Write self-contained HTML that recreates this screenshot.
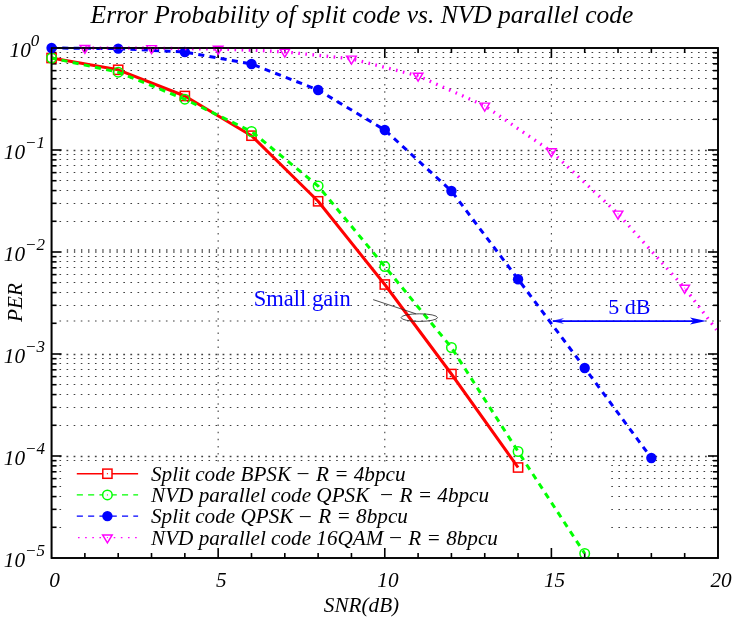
<!DOCTYPE html><html><head><meta charset="utf-8"><style>html,body{margin:0;padding:0;background:#fff}svg{display:block;will-change:transform;opacity:0.999}text{font-family:"Liberation Serif",serif}</style></head><body>
<svg width="741" height="623" viewBox="0 0 741 623">
<rect width="741" height="623" fill="#fff"/>
<g stroke="#404040" stroke-width="1.05" fill="none" stroke-dasharray="1.6 5.4946">
<path d="M59.39 150.50H718.00" stroke-width="1.6" stroke-dasharray="1.8 5.2946"/>
<path d="M59.49 119.50H718.00"/>
<path d="M59.49 101.50H718.00"/>
<path d="M59.49 88.50H718.00"/>
<path d="M59.49 78.50H718.00"/>
<path d="M59.49 70.50H718.00"/>
<path d="M59.49 63.50H718.00"/>
<path d="M59.49 57.50H718.00"/>
<path d="M59.49 52.50H718.00"/>
<path d="M59.49 221.50H718.00"/>
<path d="M59.49 203.50H718.00"/>
<path d="M59.49 190.50H718.00"/>
<path d="M59.49 180.50H718.00"/>
<path d="M59.49 172.50H718.00"/>
<path d="M59.49 165.50H718.00"/>
<path d="M59.49 159.50H718.00"/>
<path d="M59.49 154.50H718.00"/>
<path d="M59.39 354.50H718.00" stroke-width="1.6" stroke-dasharray="1.8 5.2946"/>
<path d="M59.49 321.00H721.50"/>
<path d="M59.49 305.50H718.00"/>
<path d="M59.49 292.50H718.00"/>
<path d="M59.49 282.50H718.00"/>
<path d="M59.49 274.50H718.00"/>
<path d="M59.49 267.50H718.00"/>
<path d="M59.49 261.50H718.00"/>
<path d="M59.49 256.50H718.00"/>
<path d="M59.39 456.50H718.00" stroke-width="1.6" stroke-dasharray="1.8 5.2946"/>
<path d="M59.49 425.50H718.00"/>
<path d="M59.49 407.50H718.00"/>
<path d="M59.49 394.50H718.00"/>
<path d="M59.49 384.50H718.00"/>
<path d="M59.49 376.50H718.00"/>
<path d="M59.49 369.50H718.00"/>
<path d="M59.49 363.50H718.00"/>
<path d="M59.49 358.50H718.00"/>
<path d="M59.49 527.50h1.6"/>
<path d="M611.30 527.50H718.00"/>
<path d="M59.49 509.50h1.6"/>
<path d="M611.30 509.50H718.00"/>
<path d="M59.49 496.50h1.6"/>
<path d="M611.30 496.50H718.00"/>
<path d="M59.49 486.50h1.6"/>
<path d="M611.30 486.50H718.00"/>
<path d="M59.49 478.50h1.6"/>
<path d="M611.30 478.50H718.00"/>
<path d="M59.49 471.50h1.6"/>
<path d="M611.30 471.50H718.00"/>
<path d="M59.49 465.50h1.6"/>
<path d="M611.30 465.50H718.00"/>
<path d="M59.49 460.50H718.00"/>
</g>
<path d="M66.83 251H718.00" stroke="#666" stroke-width="3.8" stroke-dasharray="1.3 5.7946" fill="none"/>
<g stroke="#404040" stroke-width="1.1" fill="none" stroke-dasharray="1.5 5.5946">
<path d="M218.16 48.60V558.00"/>
<path d="M384.78 48.60V558.00"/>
<path d="M551.39 48.60V558.00"/>
</g>
<rect x="62.5" y="463" width="548" height="95" fill="#fff"/>
<g stroke="#000" stroke-width="1.6" fill="none">
<rect x="51.55" y="48.00" width="666.45" height="510.00"/>
<path d="M84.87 558.00v-5.00M84.87 48.00v5.00"/>
<path d="M118.20 558.00v-5.00M118.20 48.00v5.00"/>
<path d="M151.52 558.00v-5.00M151.52 48.00v5.00"/>
<path d="M184.84 558.00v-5.00M184.84 48.00v5.00"/>
<path d="M218.16 558.00v-10.00M218.16 48.00v10.00"/>
<path d="M251.49 558.00v-5.00M251.49 48.00v5.00"/>
<path d="M284.81 558.00v-5.00M284.81 48.00v5.00"/>
<path d="M318.13 558.00v-5.00M318.13 48.00v5.00"/>
<path d="M351.45 558.00v-5.00M351.45 48.00v5.00"/>
<path d="M384.78 558.00v-10.00M384.78 48.00v10.00"/>
<path d="M418.10 558.00v-5.00M418.10 48.00v5.00"/>
<path d="M451.42 558.00v-5.00M451.42 48.00v5.00"/>
<path d="M484.74 558.00v-5.00M484.74 48.00v5.00"/>
<path d="M518.07 558.00v-5.00M518.07 48.00v5.00"/>
<path d="M551.39 558.00v-10.00M551.39 48.00v10.00"/>
<path d="M584.71 558.00v-5.00M584.71 48.00v5.00"/>
<path d="M618.03 558.00v-5.00M618.03 48.00v5.00"/>
<path d="M651.36 558.00v-5.00M651.36 48.00v5.00"/>
<path d="M684.68 558.00v-5.00M684.68 48.00v5.00"/>
<path d="M51.55 150.00h10.00"/>
<path d="M718.00 150.00h-10.00"/>
<path d="M51.55 119.29h5.00"/>
<path d="M718.00 119.29h-5.00"/>
<path d="M51.55 101.33h5.00"/>
<path d="M718.00 101.33h-5.00"/>
<path d="M51.55 88.59h5.00"/>
<path d="M718.00 88.59h-5.00"/>
<path d="M51.55 78.71h5.00"/>
<path d="M718.00 78.71h-5.00"/>
<path d="M51.55 70.63h5.00"/>
<path d="M718.00 70.63h-5.00"/>
<path d="M51.55 63.80h5.00"/>
<path d="M718.00 63.80h-5.00"/>
<path d="M51.55 57.88h5.00"/>
<path d="M718.00 57.88h-5.00"/>
<path d="M51.55 52.67h5.00"/>
<path d="M718.00 52.67h-5.00"/>
<path d="M51.55 252.00h10.00"/>
<path d="M718.00 252.00h-10.00"/>
<path d="M51.55 221.29h5.00"/>
<path d="M718.00 221.29h-5.00"/>
<path d="M51.55 203.33h5.00"/>
<path d="M718.00 203.33h-5.00"/>
<path d="M51.55 190.59h5.00"/>
<path d="M718.00 190.59h-5.00"/>
<path d="M51.55 180.71h5.00"/>
<path d="M718.00 180.71h-5.00"/>
<path d="M51.55 172.63h5.00"/>
<path d="M718.00 172.63h-5.00"/>
<path d="M51.55 165.80h5.00"/>
<path d="M718.00 165.80h-5.00"/>
<path d="M51.55 159.88h5.00"/>
<path d="M718.00 159.88h-5.00"/>
<path d="M51.55 154.67h5.00"/>
<path d="M718.00 154.67h-5.00"/>
<path d="M51.55 354.00h10.00"/>
<path d="M718.00 354.00h-10.00"/>
<path d="M51.55 323.29h5.00"/>
<path d="M51.55 305.33h5.00"/>
<path d="M718.00 305.33h-5.00"/>
<path d="M51.55 292.59h5.00"/>
<path d="M718.00 292.59h-5.00"/>
<path d="M51.55 282.71h5.00"/>
<path d="M718.00 282.71h-5.00"/>
<path d="M51.55 274.63h5.00"/>
<path d="M718.00 274.63h-5.00"/>
<path d="M51.55 267.80h5.00"/>
<path d="M718.00 267.80h-5.00"/>
<path d="M51.55 261.88h5.00"/>
<path d="M718.00 261.88h-5.00"/>
<path d="M51.55 256.67h5.00"/>
<path d="M718.00 256.67h-5.00"/>
<path d="M51.55 456.00h10.00"/>
<path d="M718.00 456.00h-10.00"/>
<path d="M51.55 425.29h5.00"/>
<path d="M718.00 425.29h-5.00"/>
<path d="M51.55 407.33h5.00"/>
<path d="M718.00 407.33h-5.00"/>
<path d="M51.55 394.59h5.00"/>
<path d="M718.00 394.59h-5.00"/>
<path d="M51.55 384.71h5.00"/>
<path d="M718.00 384.71h-5.00"/>
<path d="M51.55 376.63h5.00"/>
<path d="M718.00 376.63h-5.00"/>
<path d="M51.55 369.80h5.00"/>
<path d="M718.00 369.80h-5.00"/>
<path d="M51.55 363.88h5.00"/>
<path d="M718.00 363.88h-5.00"/>
<path d="M51.55 358.67h5.00"/>
<path d="M718.00 358.67h-5.00"/>
<path d="M51.55 527.29h5.00"/>
<path d="M718.00 527.29h-5.00"/>
<path d="M51.55 509.33h5.00"/>
<path d="M718.00 509.33h-5.00"/>
<path d="M51.55 496.59h5.00"/>
<path d="M718.00 496.59h-5.00"/>
<path d="M51.55 486.71h5.00"/>
<path d="M718.00 486.71h-5.00"/>
<path d="M51.55 478.63h5.00"/>
<path d="M718.00 478.63h-5.00"/>
<path d="M51.55 471.80h5.00"/>
<path d="M718.00 471.80h-5.00"/>
<path d="M51.55 465.88h5.00"/>
<path d="M718.00 465.88h-5.00"/>
<path d="M51.55 460.67h5.00"/>
<path d="M718.00 460.67h-5.00"/>
</g>
<path d="M76.80 473.70H138.10" stroke="#f00" stroke-width="1.4" fill="none"/>
<rect x="102.80" y="469.10" width="9.2" height="9.2" fill="#fff" stroke="#f00" stroke-width="1.5"/>
<circle cx="107.40" cy="473.70" r="0.6" fill="#f00"/>
<path d="M76.80 494.90H138.10" stroke="#0f0" stroke-width="1.4" stroke-dasharray="6.1 5.2" fill="none"/>
<circle cx="107.40" cy="494.90" r="4.75" fill="#fff" stroke="#0f0" stroke-width="1.5"/>
<circle cx="107.40" cy="494.90" r="0.6" fill="#0f0"/>
<path d="M76.80 516.10H138.10" stroke="#00f" stroke-width="1.4" stroke-dasharray="6.1 5.2" fill="none"/>
<circle cx="107.40" cy="516.10" r="5.2" fill="#00f"/>
<path d="M78.00 537.60H138.10" stroke="#f0f" stroke-width="1.4" stroke-dasharray="1.6 5.54" fill="none"/>
<path d="M102.60 534.90L112.20 534.90L107.40 542.90Z" fill="#fff" stroke="#f0f" stroke-width="1.45" stroke-linejoin="miter"/>
<circle cx="107.40" cy="537.60" r="0.6" fill="#f0f"/>
<text x="151" y="480.70" font-size="21.2" font-style="italic" xml:space="preserve" id="lg0">Split code BPSK <tspan dx="1.4" dy="-1.6">–</tspan><tspan dx="2.3" dy="1.6"> </tspan>R = 4bpcu</text>
<text x="151" y="501.90" font-size="21.2" font-style="italic" xml:space="preserve" id="lg1">NVD parallel code QPSK  <tspan dx="1.4" dy="-1.6">–</tspan><tspan dx="2.3" dy="1.6"> </tspan>R = 4bpcu</text>
<text x="151" y="523.10" font-size="21.2" font-style="italic" xml:space="preserve" id="lg2">Split code QPSK <tspan dx="1.4" dy="-1.6">–</tspan><tspan dx="2.3" dy="1.6"> </tspan>R = 8bpcu</text>
<text x="151" y="544.60" font-size="21.2" font-style="italic" xml:space="preserve" id="lg3">NVD parallel code 16QAM <tspan dx="1.4" dy="-1.6">–</tspan><tspan dx="2.3" dy="1.6"> </tspan>R = 8bpcu</text>
<path d="M51.55 58.00L118.20 69.80L184.84 96.00L251.49 135.70L318.13 201.30L384.78 284.50L451.42 374.00L518.07 467.50" stroke="#f00" stroke-width="3" stroke-linejoin="round" fill="none"/>
<rect x="46.95" y="53.40" width="9.2" height="9.2" fill="none" stroke="#f00" stroke-width="1.5"/>
<rect x="113.60" y="65.20" width="9.2" height="9.2" fill="none" stroke="#f00" stroke-width="1.5"/>
<rect x="180.24" y="91.40" width="9.2" height="9.2" fill="none" stroke="#f00" stroke-width="1.5"/>
<rect x="246.89" y="131.10" width="9.2" height="9.2" fill="none" stroke="#f00" stroke-width="1.5"/>
<rect x="313.53" y="196.70" width="9.2" height="9.2" fill="none" stroke="#f00" stroke-width="1.5"/>
<rect x="380.18" y="279.90" width="9.2" height="9.2" fill="none" stroke="#f00" stroke-width="1.5"/>
<rect x="446.82" y="369.40" width="9.2" height="9.2" fill="none" stroke="#f00" stroke-width="1.5"/>
<rect x="513.47" y="462.90" width="9.2" height="9.2" fill="none" stroke="#f00" stroke-width="1.5"/>
<path d="M51.55 58.00L118.20 72.20L184.84 99.20L251.49 131.50L318.13 186.00L384.78 266.50L451.42 347.50L518.07 451.50L584.71 553.50" stroke="#0f0" stroke-width="3" stroke-dasharray="6.1 5.3" stroke-dashoffset="1.2" fill="none"/>
<circle cx="51.55" cy="58.00" r="4.75" fill="none" stroke="#0f0" stroke-width="1.5"/>
<circle cx="118.20" cy="72.20" r="4.75" fill="none" stroke="#0f0" stroke-width="1.5"/>
<circle cx="184.84" cy="99.20" r="4.75" fill="none" stroke="#0f0" stroke-width="1.5"/>
<circle cx="251.49" cy="131.50" r="4.75" fill="none" stroke="#0f0" stroke-width="1.5"/>
<circle cx="318.13" cy="186.00" r="4.75" fill="none" stroke="#0f0" stroke-width="1.5"/>
<circle cx="384.78" cy="266.50" r="4.75" fill="none" stroke="#0f0" stroke-width="1.5"/>
<circle cx="451.42" cy="347.50" r="4.75" fill="none" stroke="#0f0" stroke-width="1.5"/>
<circle cx="518.07" cy="451.50" r="4.75" fill="none" stroke="#0f0" stroke-width="1.5"/>
<circle cx="584.71" cy="553.50" r="4.75" fill="none" stroke="#0f0" stroke-width="1.5"/>
<path d="M51.55 48.00L118.20 48.60L184.84 52.00L251.49 64.00L318.13 90.00L384.78 130.00L451.42 191.00L518.07 279.20L584.71 368.00L651.36 458.00" stroke="#00f" stroke-width="3" stroke-dasharray="6.08 5.277" stroke-dashoffset="0.6" fill="none"/>
<circle cx="51.55" cy="48.00" r="5.2" fill="#00f"/>
<circle cx="118.20" cy="48.60" r="5.2" fill="#00f"/>
<circle cx="184.84" cy="52.00" r="5.2" fill="#00f"/>
<circle cx="251.49" cy="64.00" r="5.2" fill="#00f"/>
<circle cx="318.13" cy="90.00" r="5.2" fill="#00f"/>
<circle cx="384.78" cy="130.00" r="5.2" fill="#00f"/>
<circle cx="451.42" cy="191.00" r="5.2" fill="#00f"/>
<circle cx="518.07" cy="279.20" r="5.2" fill="#00f"/>
<circle cx="584.71" cy="368.00" r="5.2" fill="#00f"/>
<circle cx="651.36" cy="458.00" r="5.2" fill="#00f"/>
<path d="M84.87 48.00L118.20 48.10L151.52 48.30L184.84 48.60L218.16 49.10L251.49 50.10L284.81 51.90L351.45 58.80L418.10 75.90L484.74 105.80L551.39 151.50L618.03 213.80L684.68 288.00L716.50 329.80" stroke="#f0f" stroke-width="3.3" stroke-dasharray="1.6 5.5" stroke-dashoffset="6.53" fill="none"/>
<path d="M80.07 45.40L89.67 45.40L84.87 53.40Z" fill="none" stroke="#f0f" stroke-width="1.45" stroke-linejoin="miter"/>
<circle cx="84.87" cy="48.10" r="0.6" fill="#f0f"/>
<path d="M146.72 45.60L156.32 45.60L151.52 53.60Z" fill="none" stroke="#f0f" stroke-width="1.45" stroke-linejoin="miter"/>
<circle cx="151.52" cy="48.30" r="0.6" fill="#f0f"/>
<path d="M213.36 46.30L222.96 46.30L218.16 54.30Z" fill="none" stroke="#f0f" stroke-width="1.45" stroke-linejoin="miter"/>
<circle cx="218.16" cy="49.00" r="0.6" fill="#f0f"/>
<path d="M280.01 49.20L289.61 49.20L284.81 57.20Z" fill="none" stroke="#f0f" stroke-width="1.45" stroke-linejoin="miter"/>
<circle cx="284.81" cy="51.90" r="0.6" fill="#f0f"/>
<path d="M346.65 56.10L356.25 56.10L351.45 64.10Z" fill="none" stroke="#f0f" stroke-width="1.45" stroke-linejoin="miter"/>
<circle cx="351.45" cy="58.80" r="0.6" fill="#f0f"/>
<path d="M413.30 73.20L422.90 73.20L418.10 81.20Z" fill="none" stroke="#f0f" stroke-width="1.45" stroke-linejoin="miter"/>
<circle cx="418.10" cy="75.90" r="0.6" fill="#f0f"/>
<path d="M479.94 103.10L489.54 103.10L484.74 111.10Z" fill="none" stroke="#f0f" stroke-width="1.45" stroke-linejoin="miter"/>
<circle cx="484.74" cy="105.80" r="0.6" fill="#f0f"/>
<path d="M546.59 148.80L556.19 148.80L551.39 156.80Z" fill="none" stroke="#f0f" stroke-width="1.45" stroke-linejoin="miter"/>
<circle cx="551.39" cy="151.50" r="0.6" fill="#f0f"/>
<path d="M613.23 211.10L622.83 211.10L618.03 219.10Z" fill="none" stroke="#f0f" stroke-width="1.45" stroke-linejoin="miter"/>
<circle cx="618.03" cy="213.80" r="0.6" fill="#f0f"/>
<path d="M679.88 285.30L689.48 285.30L684.68 293.30Z" fill="none" stroke="#f0f" stroke-width="1.45" stroke-linejoin="miter"/>
<circle cx="684.68" cy="288.00" r="0.6" fill="#f0f"/>
<rect x="51.55" y="48.00" width="666.45" height="510.00" fill="none" stroke="#000" stroke-width="1.6"/>
<text x="54.65" y="586.6" font-size="21.2" font-style="italic" text-anchor="middle">0</text>
<text x="221.26" y="586.6" font-size="21.2" font-style="italic" text-anchor="middle">5</text>
<text x="387.88" y="586.6" font-size="21.2" font-style="italic" text-anchor="middle">10</text>
<text x="554.49" y="586.6" font-size="21.2" font-style="italic" text-anchor="middle">15</text>
<text x="721.10" y="586.6" font-size="21.2" font-style="italic" text-anchor="middle">20</text>
<text x="24.4" y="56.90" font-size="21.2" font-style="italic" text-anchor="middle">10<tspan font-size="17" dy="-10.6">0</tspan></text>
<text x="24.4" y="158.90" font-size="21.2" font-style="italic" text-anchor="middle">10<tspan font-size="17" dy="-10.6">−1</tspan></text>
<text x="24.4" y="260.90" font-size="21.2" font-style="italic" text-anchor="middle">10<tspan font-size="17" dy="-10.6">−2</tspan></text>
<text x="24.4" y="362.90" font-size="21.2" font-style="italic" text-anchor="middle">10<tspan font-size="17" dy="-10.6">−3</tspan></text>
<text x="24.4" y="464.90" font-size="21.2" font-style="italic" text-anchor="middle">10<tspan font-size="17" dy="-10.6">−4</tspan></text>
<text x="24.4" y="566.90" font-size="21.2" font-style="italic" text-anchor="middle">10<tspan font-size="17" dy="-10.6">−5</tspan></text>
<text x="361.5" y="611.9" font-size="21.2" font-style="italic" text-anchor="middle" id="xl">SNR(dB)</text>
<text transform="translate(21.8 302.6) rotate(-90)" font-size="21.2" font-style="italic" text-anchor="middle" id="yl">PER</text>
<text x="362" y="22.9" font-size="25.5" font-style="italic" text-anchor="middle" id="ttl">Error Probability of split code vs. NVD parallel code</text>
<text x="253.8" y="306.2" font-size="22.5" fill="#00f" id="sg">Small gain</text>
<text x="608.3" y="313.5" font-size="22" fill="#00f" id="db">5 dB</text>
<path d="M373.1 299.6L415.9 313.8" stroke="#222" stroke-width="0.8" fill="none"/>
<ellipse cx="419.3" cy="317.6" rx="18.2" ry="3.8" stroke="#222" stroke-width="0.8" fill="none"/>
<path d="M553 321.05H694" stroke="#00f" stroke-width="1.8" fill="none"/>
<path d="M706.3 321.05L690 317.6L693.7 321.05L690 324.6Z" fill="#00f"/>
<path d="M551.3 321.05L564 318.1L560.5 321.05L564 324Z" fill="#00f" fill-opacity="0.75"/>
</svg></body></html>
